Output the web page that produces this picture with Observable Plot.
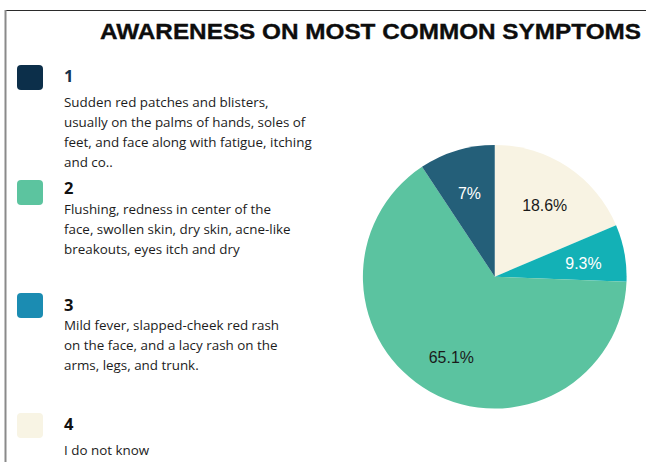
<!DOCTYPE html>
<html>
<head>
<meta charset="utf-8">
<script src="https://cdn.jsdelivr.net/npm/d3@7"></script>
<script src="https://cdn.jsdelivr.net/npm/@observablehq/plot@0.6"></script>
<style>
  html, body { margin: 0; padding: 0; background: #fff; }
  #wrap { position: relative; width: 646px; height: 462px; overflow: hidden; background: #fff; }
  #deco { position: absolute; left: 0; top: 0; }
  #pie { position: absolute; left: 342.5px; top: 125px; }
</style>
</head>
<body>
<div id="wrap">
  <svg id="deco" width="646" height="462"></svg>
  <div id="pie"></div>
</div>
<script>
// ---------------- data ----------------
const title = "AWARENESS ON MOST COMMON SYMPTOMS";
const categories = ["1", "2", "3", "4"];
const descriptions = [
  ["Sudden red patches and blisters,", "usually on the palms of hands, soles of", "feet, and face along with fatigue, itching", "and co.."],
  ["Flushing, redness in center of the", "face, swollen skin, dry skin, acne-like", "breakouts, eyes itch and dry"],
  ["Mild fever, slapped-cheek red rash", "on the face, and a lacy rash on the", "arms, legs, and trunk."],
  ["I do not know"]
];
const legendColors = ["#0c2f4a", "#5cc49f", "#1b8cb2", "#f8f4e4"];

// pie slices, clockwise from 12 o'clock, sized as drawn in the picture
const sliceCategories = ["4", "3", "2", "1"];
const sliceShares = [18.6, 7.0, 65.1, 9.3];
const sliceLabels = ["18.6%", "9.3%", "65.1%", "7%"];
const sliceColors = ["#f8f3e3", "#13b1b6", "#5bc3a0", "#245f79"];
const labelColors = ["#1a1a1a", "#ffffff", "#1a1a1a", "#ffffff"];

// ---------------- frame, title, legend ----------------
const svg = d3.select("#deco");
svg.append("line").attr("x1", 5).attr("x2", 646).attr("y1", 10.5).attr("y2", 10.5)
  .attr("stroke", "#2b2b2b").attr("stroke-width", 1.2);
svg.append("line").attr("x1", 5.5).attr("x2", 5.5).attr("y1", 10).attr("y2", 462)
  .attr("stroke", "#8a8a8a").attr("stroke-width", 2);

svg.append("text").attr("x", 100).attr("y", 38.5)
  .attr("textLength", 541).attr("lengthAdjust", "spacingAndGlyphs")
  .attr("font-family", "'Liberation Sans', Arial, sans-serif")
  .attr("font-weight", "bold").attr("font-size", 22.5).attr("fill", "#0d0d0d")
  .attr("stroke", "#0d0d0d").attr("stroke-width", 0.35)
  .text(title);

const squareTop = [65, 180, 293, 413];
const numBase = [82, 194, 311, 430];
const descBase = [107, 214, 330, 455];
const lineGap = 20;

categories.forEach((c, i) => {
  svg.append("rect").attr("x", 17).attr("y", squareTop[i]).attr("width", 26).attr("height", 25)
    .attr("rx", 4).attr("fill", legendColors[i]);
  svg.append("text").attr("x", 64).attr("y", numBase[i])
    .attr("font-family", "'Open Sans', sans-serif").attr("font-weight", "bold")
    .attr("font-size", 16.5).attr("fill", i === 0 ? "#15314b" : "#111").text(c);
  const t = svg.append("text").attr("font-family", "'Open Sans', sans-serif")
    .attr("font-size", 13.4).attr("fill", "#1c1c1c");
  descriptions[i].forEach((line, k) => {
    t.append("tspan").attr("x", 64).attr("y", descBase[i] + k * lineGap).text(line);
  });
});

// ---------------- pie with Plot ----------------
const pieGen = d3.pie().sort(null).value(d => d.share);
const rows = sliceCategories.map((c, i) => ({
  category: c, share: sliceShares[i], label: sliceLabels[i],
  color: sliceColors[i], labelColor: labelColors[i]
}));
const arcs = pieGen(rows);
const labelR = 0.68;
const labelRows = arcs.map(a => {
  const mid = (a.startAngle + a.endAngle) / 2;
  return { ...a.data, ux: labelR * Math.sin(mid), uy: labelR * Math.cos(mid) };
});

const R = 132.5, size = 305, dom = (size / 2) / R;

function pieMark(index, scales, values, dimensions) {
  const sx = scales && scales.x ? scales.x : (v => dimensions.width / 2 + v * R);
  const sy = scales && scales.y ? scales.y : (v => dimensions.height / 2 - v * R);
  const cx = sx(0), cy = sy(0), r = sx(1) - sx(0);
  const arc = d3.arc().innerRadius(0).outerRadius(r);
  const g = d3.create("svg:g").attr("transform", `translate(${cx},${cy})`);
  g.selectAll("path").data(arcs).join("path")
    .attr("d", arc).attr("fill", d => d.data.color);
  return g.node();
}

const chart = Plot.plot({
  width: size, height: size, margin: 0,
  x: { domain: [-dom, dom], axis: null },
  y: { domain: [-dom, dom], axis: null },
  style: { background: "transparent", overflow: "visible" },
  marks: [
    pieMark,
    Plot.text(labelRows, {
      x: "ux", y: "uy", text: "label", fill: d => d.labelColor, dy: 3,
      fontSize: 16, fontFamily: "'Liberation Sans', Arial, sans-serif"
    })
  ]
});
document.getElementById("pie").appendChild(chart);
</script>
</body>
</html>
